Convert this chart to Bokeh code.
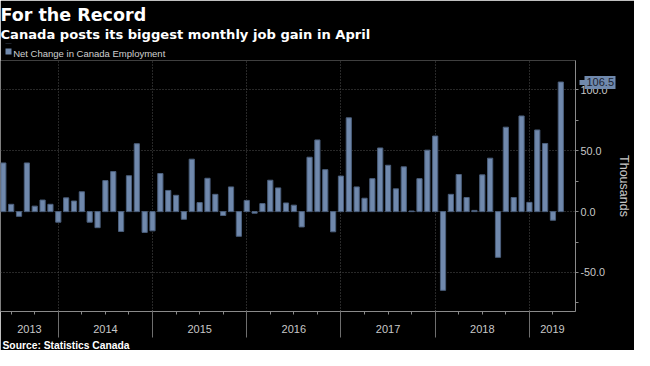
import pandas as pd
from bokeh.plotting import figure
from bokeh.models import (Range1d, FixedTicker, NumeralTickFormatter, LinearAxis, Title)
from bokeh.embed import file_html
from bokeh.resources import INLINE

# ---------------- data ----------------
months = pd.period_range("2013-05", "2019-04", freq="M")
net_change = [
    40.0, 6.0, -3.9, 40.0, 4.5, 9.5, 6.0, -8.7,                                   # 2013 May-Dec
    11.3, 8.7, 16.3, -8.7, -13.2, 25.5, 32.9, -16.3, 29.5, 55.8, -17.1, -15.8,    # 2014
    31.3, 17.4, 13.4, -6.3, 43.1, 7.4, 27.4, 14.2, -3.2, 20.3, -20.3, 9.2,        # 2015
    -1.3, 6.6, 25.8, 19.5, 7.1, 5.3, -12.6, 44.7, 58.9, 34.5, -16.6, 29.2,        # 2016
    77.1, 20.3, 11.0, 27.1, 52.3, 38.1, 18.7, 36.8, 0.5, 27.1, 50.5, 62.1,        # 2017
    -64.7, 14.2, 30.5, 11.6, 1.0, 30.2, 43.9, -37.6, 69.4, 11.6, 78.6, 7.6,       # 2018
    67.1, 56.0, -7.1, 106.5,                                                      # 2019 Jan-Apr
]
years = ["2013", "2014", "2015", "2016", "2017", "2018", "2019"]
y_ticks = [-50, 0, 50, 100]
y_minor = [-75, -25, 25, 75]
last_value = net_change[-1]

title = "For the Record"
subtitle = "Canada posts its biggest monthly job gain in April"
legend_text = "Net Change in Canada Employment"
source = "Source: Statistics Canada"

# month-end positions (months counted from the start of 2013)
x_pos = [(m.year - 2013) * 12 + m.month for m in months]
X0, X1 = 4.64, 77.87
FRAME_W = 576
year_bounds = [12 * (i + 1) for i in range(len(years) - 1)]
quarter_ticks = [q for q in range(3, 78, 3) if q % 12 != 0]
year_centers = []
for i in range(len(years)):
    lo = max(12 * i, X0)
    hi = min(12 * (i + 1), X1)
    year_centers.append(round((lo + hi) / 2, 3))
legend_key_x = round(X0 + 7.8 * (X1 - X0) / FRAME_W, 3)   # legend swatch, 7.8 px from the left

# ---------------- styling ----------------
BG = "#000000"
BAR = "#7089ad"
BAR_LINE = "#4b5f7c"
GRID = "#505050"
AXIS = "#8a8a8a"
TXT = "#c8c8c8"
FONT = "Liberation Sans"
HEAD = "DejaVu Sans"

p = figure(width=634, height=350, output_backend="svg", toolbar_location=None,
           title=None,
           x_range=Range1d(X0, X1), y_range=Range1d(-82.1, 124.2),
           y_axis_location="right",
           min_border_left=0, min_border_right=58, min_border_top=60, min_border_bottom=39,
           background_fill_color=BG, border_fill_color=BG, outline_line_color=None)

bars = p.vbar(x=x_pos, top=net_change, bottom=0, width=0.66,
              fill_color=BAR, line_color=BAR_LINE, line_width=1)

# ---- x axis with year labels, axis line and quarter ticks (closest to frame)
xa = p.xaxis[0]
xa.ticker = FixedTicker(ticks=year_centers, minor_ticks=quarter_ticks)
xa.major_label_overrides = {c: y for c, y in zip(year_centers, years)}
xa.major_tick_out = 0
xa.major_tick_in = 0
xa.minor_tick_out = 3
xa.minor_tick_in = 0
xa.major_label_standoff = 10
xa.major_label_text_font = FONT
xa.major_label_text_font_size = "11px"
xa.major_label_text_color = TXT
xa.axis_line_color = AXIS
xa.minor_tick_line_color = AXIS

# ---- second x axis: long year separators reaching up to the axis line
sep_axis = LinearAxis(ticker=FixedTicker(ticks=year_bounds), axis_line_color=None,
                      major_tick_in=25, major_tick_out=2, minor_tick_out=0, minor_tick_in=0,
                      major_tick_line_color="#6e6e6e", major_label_standoff=0,
                      major_label_overrides={b: "" for b in year_bounds},
                      major_label_text_font_size="1px")
p.add_layout(sep_axis, "below")

# ---- y axis (right)
ya = p.yaxis[0]
ya.ticker = FixedTicker(ticks=y_ticks, minor_ticks=y_minor)
ya.formatter = NumeralTickFormatter(format="0.0")
ya.major_tick_out = 3
ya.major_tick_in = 0
ya.minor_tick_out = 3
ya.minor_tick_in = 0
ya.major_label_standoff = 2
ya.major_label_text_font = FONT
ya.major_label_text_font_size = "10.8px"
ya.major_label_text_color = TXT
ya.axis_line_color = AXIS
ya.major_tick_line_color = AXIS
ya.minor_tick_line_color = AXIS

# ---- callout axis: a thick tick as the value box, label drawn over it
call_axis = LinearAxis(ticker=FixedTicker(ticks=[last_value], minor_ticks=[last_value]),
                       formatter=NumeralTickFormatter(format="0.0"),
                       axis_line_color=None,
                       major_tick_in=26, major_tick_out=5,
                       major_tick_line_color=BAR, major_tick_line_width=13,
                       minor_tick_in=31, minor_tick_out=0,
                       minor_tick_line_color=BAR, minor_tick_line_width=5,
                       major_label_standoff=-29,
                       major_label_text_font=FONT, major_label_text_font_size="11px",
                       major_label_text_color="#1a2230",
                       axis_label="Thousands", axis_label_text_font=FONT,
                       axis_label_text_font_size="12.5px", axis_label_text_font_style="normal",
                       axis_label_text_color=TXT, axis_label_standoff=0)
p.add_layout(call_axis, "right")

# grids
p.xgrid.ticker = FixedTicker(ticks=year_bounds)
p.ygrid.ticker = FixedTicker(ticks=y_ticks)
for g in (p.xgrid, p.ygrid):
    g.grid_line_color = GRID
    g.grid_line_dash = "1 2"
    g.grid_line_width = 1

# ---- above the frame: legend text, legend swatch, subtitle, title
p.add_layout(Title(text=legend_text, align="left", text_font=FONT, text_font_size="9.5px",
                   text_font_style="normal", text_color="#d0d0d0", standoff=3.5, offset=12.7), "above")
# swatch: blue major tick hanging down into the legend row, its top masked by a
# background-coloured minor tick
key_axis = LinearAxis(ticker=FixedTicker(ticks=[legend_key_x], minor_ticks=[legend_key_x]),
                      axis_line_color=None,
                      major_tick_in=11, major_tick_out=0, major_tick_line_width=6,
                      major_tick_line_color=BAR,
                      minor_tick_in=5, minor_tick_out=0, minor_tick_line_width=9,
                      minor_tick_line_color=BG,
                      major_label_standoff=0,
                      major_label_overrides={legend_key_x: ""},
                      major_label_text_font_size="1px")
p.add_layout(key_axis, "above")
p.add_layout(Title(text=subtitle, align="left", text_font=HEAD, text_font_size="13.1px",
                   text_font_style="bold", text_color="#ffffff", standoff=3, offset=0), "above")
p.add_layout(Title(text=title, align="left", text_font=HEAD, text_font_size="17.5px",
                   text_font_style="bold", text_color="#ffffff", standoff=-2.5, offset=0), "above")

p.add_layout(Title(text=source, align="left", text_font=FONT, text_font_size="10.3px",
                   text_font_style="bold", text_color="#ffffff", standoff=0, offset=2), "below")

open("out.html", "w").write(file_html(p, INLINE))
